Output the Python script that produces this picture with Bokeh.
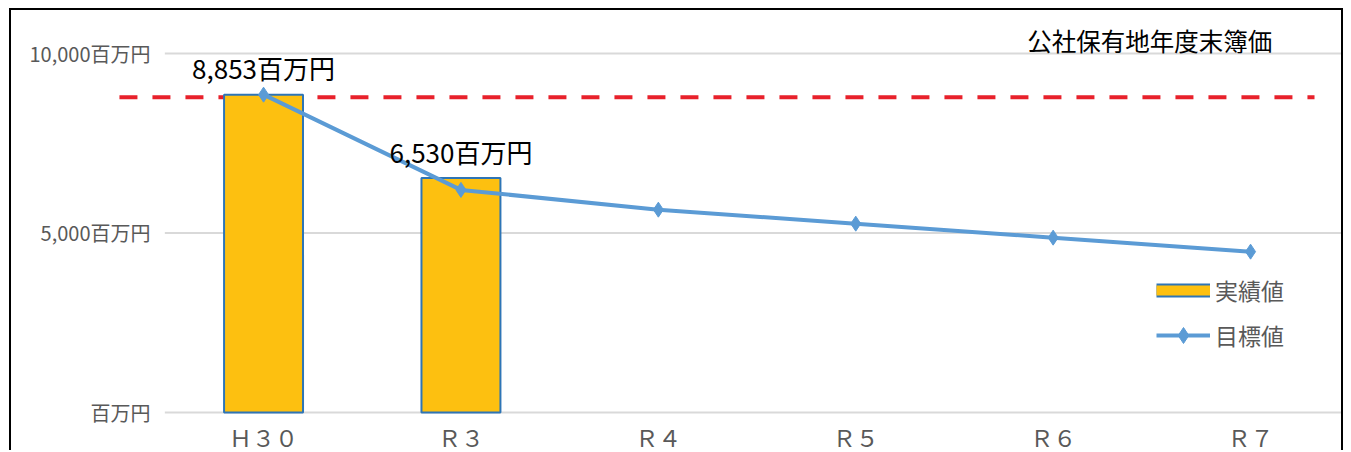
from bokeh.plotting import figure
from bokeh.models import Range1d, FixedTicker, Legend, LegendItem, Label, ColumnDataSource
from bokeh.core.properties import value
from bokeh.embed import file_html
from bokeh.resources import INLINE

# ---- data ----
categories = ["Ｈ３０", "Ｒ３", "Ｒ４", "Ｒ５", "Ｒ６", "Ｒ７"]
actual = [8853, 6530]                               # 実績値
target = [8853, 6200, 5650, 5260, 4870, 4480]       # 目標値
reference_value = 8780                              # red dashed line level
y_ticks = [0, 5000, 10000]
unit = "百万円"
title_text = "公社保有地年度末簿価"
actual_name = "実績値"
target_name = "目標値"

FONT = "Noto Sans CJK JP"
GRAY = "#595959"
BAR_FILL = "#FDC010"
BAR_LINE = "#2E75B6"
LINE_COL = "#5B9BD5"
RED = "#E8212B"
GRID = "#D9D9D9"

xs = list(range(len(categories)))
xa = xs[:len(actual)]

p = figure(
    width=1334, height=442,
    x_range=Range1d(-0.75, 5.481), y_range=Range1d(-1114, 10919),
    x_axis_location=None,
    output_backend="svg", toolbar_location=None,
    min_border_left=104, min_border_right=0, min_border_top=10, min_border_bottom=0,
    margin=(8, 0, 0, 9),
    styles={"border-top": "2px solid black", "border-left": "2px solid black",
            "border-right": "2px solid black"},
)
p.outline_line_color = None
p.grid.visible = False
p.background_fill_color = "white"
p.border_fill_color = "white"

# gridlines (category span)
p.segment(x0=[-0.5] * len(y_ticks), x1=[len(categories) - 0.5] * len(y_ticks),
          y0=y_ticks, y1=y_ticks, line_color=GRID, line_width=2)

# reference dashed line
p.segment(x0=[-0.73], x1=[5.324], y0=[reference_value], y1=[reference_value],
          line_color=RED, line_width=4, line_dash="18 15")

# bars
src_a = ColumnDataSource(dict(x=xa, top=actual, lab=[f"{v:,}{unit}" for v in actual]))
bars = p.vbar(x="x", top="top", bottom=0, width=0.4, source=src_a,
              fill_color=BAR_FILL, line_color=BAR_LINE, line_width=2)

# target line
src_t = ColumnDataSource(dict(x=xs, y=target))
ln = p.line(x="x", y="y", source=src_t, line_color=LINE_COL, line_width=4)
mk = p.scatter(x="x", y="y", source=src_t, marker="diamond", size=15,
               fill_color=LINE_COL, line_color=LINE_COL)

# data labels
p.text(x="x", y="top", text="lab", source=src_a, text_align="center",
       text_baseline="middle", y_offset=-27, text_font=value(FONT),
       text_font_size="26px", text_color="black")

# category labels along the baseline
src_c = ColumnDataSource(dict(x=xs, y=[0] * len(xs), t=categories))
p.text(x="x", y="y", text="t", source=src_c, text_align="center",
       text_baseline="middle", y_offset=24, text_font=value(FONT),
       text_font_size="23px", text_color=GRAY)

# legend proxies for bar (off-screen data)
proxy_b1 = p.line(x=[100, 101], y=[0, 0], line_color=BAR_LINE, line_width=14)
proxy_b2 = p.line(x=[100, 101], y=[0, 0], line_color=BAR_FILL, line_width=10)
legend = Legend(items=[
    LegendItem(label=actual_name, renderers=[proxy_b1, proxy_b2]),
    LegendItem(label=target_name, renderers=[ln, mk]),
], location=(1041, 97))
legend.glyph_width = 54
legend.glyph_height = 40
legend.spacing = 5
legend.padding = 0
legend.margin = 0
legend.label_standoff = 5
legend.border_line_color = None
legend.background_fill_alpha = 0
legend.label_text_font = FONT
legend.label_text_font_size = "23px"
legend.label_text_color = GRAY
p.add_layout(legend, "center")

# title-like text box
p.add_layout(Label(x=5.11, y=10362, text=title_text, text_align="right",
                   text_baseline="middle", text_font=FONT, text_font_size="24.5px",
                   text_color="black"))

# y axis
p.yaxis.ticker = FixedTicker(ticks=y_ticks)
p.yaxis.major_label_overrides = {v: (f"{v:,}{unit}" if v else unit) for v in y_ticks}
p.yaxis.axis_line_color = None
p.yaxis.major_tick_line_color = None
p.yaxis.minor_tick_line_color = None
p.yaxis.major_label_standoff = -41
p.yaxis.major_label_text_font = FONT
p.yaxis.major_label_text_font_size = "20px"
p.yaxis.major_label_text_color = GRAY

open("out.html", "w").write(file_html(p, INLINE))
